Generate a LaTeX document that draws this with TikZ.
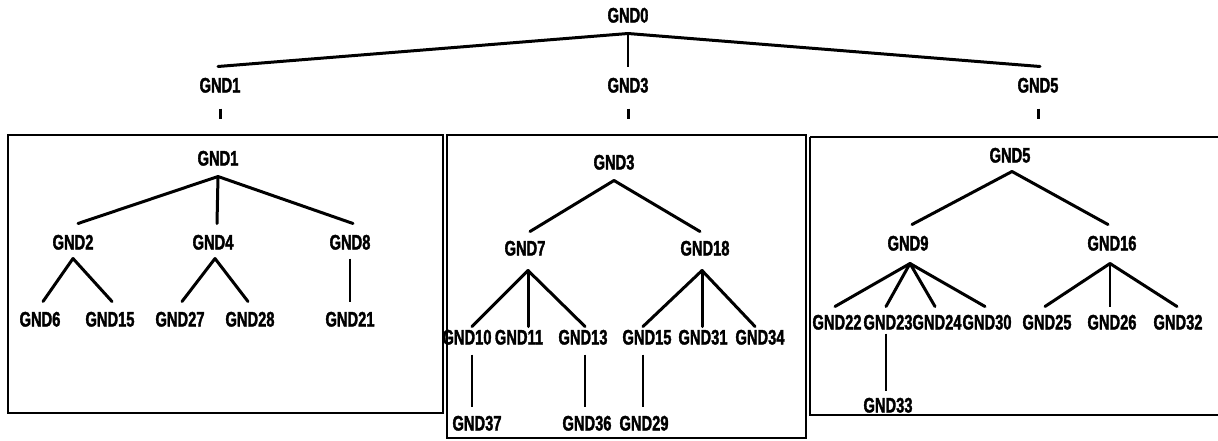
\documentclass[tikz,border=0pt]{standalone}
\usepackage{fontspec}
\setmainfont[FakeStretch=0.70,FakeBold=1.6]{Liberation Sans}
\begin{document}
\begin{tikzpicture}[x=1pt,y=-1pt,
  lbl/.style={font=\fontsize{21}{21}\selectfont\bfseries, inner sep=0pt, text height=15pt, text depth=0pt, outer sep=11pt},
  lf/.style={lbl, outer sep=8pt},
  br/.style={line width=3pt, line cap=round},
  vl/.style={line width=2pt},
  box/.style={line width=2.8pt}]
\useasboundingbox (0,0) rectangle (1218,440);
% top level
\node[lbl] (g0) at (628,15) {GND0};
\node[lbl] (t1) at (220,85) {GND1};
\node[lbl] (t3) at (628,85) {GND3};
\node[lbl] (t5) at (1038,85) {GND5};
\draw[br] (g0.south) -- ([xshift=-2pt]t1.north);
\draw[vl] (g0.south) -- (t3.north);
\draw[br] (g0.south) -- ([xshift=2pt]t5.north);
\foreach \n in {t1,t3,t5}
  \draw[line width=3pt] ([yshift=-5pt]\n.south) -- ([yshift=-15pt]\n.south);
% boxes
\draw[box] (8,135) rectangle (443,413);
\draw[box] (810,137) -- (1225,137);
\draw[box] (810,137) -- (810,415) -- (1225,415);
\draw[box] (447,135) rectangle (806,438);
% box 1
\node[lbl] (b1) at (218,158) {GND1};
\node[lbl] (n2) at (73,242) {GND2};
\node[lbl] (n4) at (213,242) {GND4};
\node[lbl] (n8) at (350,242) {GND8};
\draw[br] (b1.south) -- ([xshift=5pt]n2.north);
\draw[br] (b1.south) -- ([xshift=4pt]n4.north);
\draw[br] (b1.south) -- ([xshift=3pt]n8.north);
\node[lf] (n6) at (40,319) {GND6};
\node[lf] (n15) at (110,319) {GND15};
\node[lf] (n27) at (180,319) {GND27};
\node[lf] (n28) at (250,319) {GND28};
\node[lf] (n21) at (350,319) {GND21};
\draw[br] ([yshift=2pt]n2.south) -- ([xshift=3pt,yshift=2pt]n6.north);
\draw[br] ([yshift=2pt]n2.south) -- ([xshift=2pt,yshift=2pt]n15.north);
\draw[br] ([xshift=2pt,yshift=2pt]n4.south) -- ([xshift=2pt,yshift=2pt]n27.north);
\draw[br] ([xshift=2pt,yshift=2pt]n4.south) -- ([xshift=-2pt,yshift=2pt]n28.north);
\draw[vl] ([yshift=2pt]n8.south) -- ([yshift=2pt]n21.north);
% box 2
\node[lbl] (b3) at (614,162) {GND3};
\node[lbl] (n7) at (525,248) {GND7};
\node[lbl] (n18) at (705,248) {GND18};
\draw[br] (b3.south) -- ([xshift=5pt,yshift=-2pt]n7.north);
\draw[br] (b3.south) -- ([xshift=-5pt,yshift=-2pt]n18.north);
\node[lf] (n10) at (467,337) {GND10};
\node[lf] (n11) at (519,337) {GND11};
\node[lf] (n13) at (583,337) {GND13};
\node[lf] (n19) at (647,337) {GND15};
\node[lf] (n31) at (703,337) {GND31};
\node[lf] (n34) at (760,337) {GND34};
\draw[br] ([xshift=3pt,yshift=-4pt]n7.south) -- ([xshift=5pt,yshift=-5pt]n10.north);
\draw[br] ([xshift=3pt,yshift=-4pt]n7.south) -- ([xshift=9pt,yshift=-5pt]n11.north);
\draw[br] ([xshift=3pt,yshift=-4pt]n7.south) -- ([xshift=2pt,yshift=-5pt]n13.north);
\draw[br] ([xshift=-3pt,yshift=-4pt]n18.south) -- ([xshift=-4pt,yshift=-5pt]n19.north);
\draw[br] ([xshift=-3pt,yshift=-4pt]n18.south) -- ([xshift=-1pt,yshift=-5pt]n31.north);
\draw[br] ([xshift=-3pt,yshift=-4pt]n18.south) -- ([xshift=-5pt,yshift=-5pt]n34.north);
\node[lf] (n37) at (477,423) {GND37};
\node[lf] (n36) at (587,423) {GND36};
\node[lf] (n29) at (644,423) {GND29};
\draw[vl] ([xshift=5pt,yshift=-2pt]n10.south) -- ([xshift=-5pt,yshift=1pt]n37.north);
\draw[vl] ([xshift=2pt,yshift=-2pt]n13.south) -- ([xshift=-2pt,yshift=1pt]n36.north);
\draw[vl] ([xshift=-4pt,yshift=-2pt]n19.south) -- ([xshift=-1pt,yshift=1pt]n29.north);
% box 3
\node[lbl] (b5) at (1010,155) {GND5};
\node[lbl] (n9) at (908,243) {GND9};
\node[lbl] (n16) at (1112,243) {GND16};
\draw[br] ([xshift=2pt,yshift=2pt]b5.south) -- ([xshift=4pt]n9.north);
\draw[br] ([xshift=2pt,yshift=2pt]b5.south) -- ([xshift=-4pt]n16.north);
\node[lf] (n22) at (837,322) {GND22};
\node[lf] (n23) at (888,322) {GND23};
\node[lf] (n24) at (937,322) {GND24};
\node[lf] (n30) at (987,322) {GND30};
\node[lf] (n25) at (1047,322) {GND25};
\node[lf] (n26) at (1112,322) {GND26};
\node[lf] (n32) at (1178,322) {GND32};
\draw[br] ([xshift=2pt,yshift=-2pt]n9.south) -- ([xshift=-2pt]n22.north);
\draw[br] ([xshift=2pt,yshift=-2pt]n9.south) -- ([xshift=-2pt]n23.north);
\draw[br] ([xshift=2pt,yshift=-2pt]n9.south) -- ([xshift=-2pt]n24.north);
\draw[br] ([xshift=2pt,yshift=-2pt]n9.south) -- ([xshift=-2pt]n30.north);
\draw[br] ([xshift=-2pt,yshift=-2pt]n16.south) -- ([xshift=-2pt]n25.north);
\draw[vl] ([xshift=-2pt,yshift=-2pt]n16.south) -- ([xshift=-2pt]n26.north);
\draw[br] ([xshift=-2pt,yshift=-2pt]n16.south) -- ([xshift=-1pt]n32.north);
\node[lf] (n33) at (888,405) {GND33};
\draw[vl] ([xshift=-2pt,yshift=4pt]n23.south) -- ([xshift=-2pt,yshift=-1pt]n33.north);
\end{tikzpicture}
\end{document}
